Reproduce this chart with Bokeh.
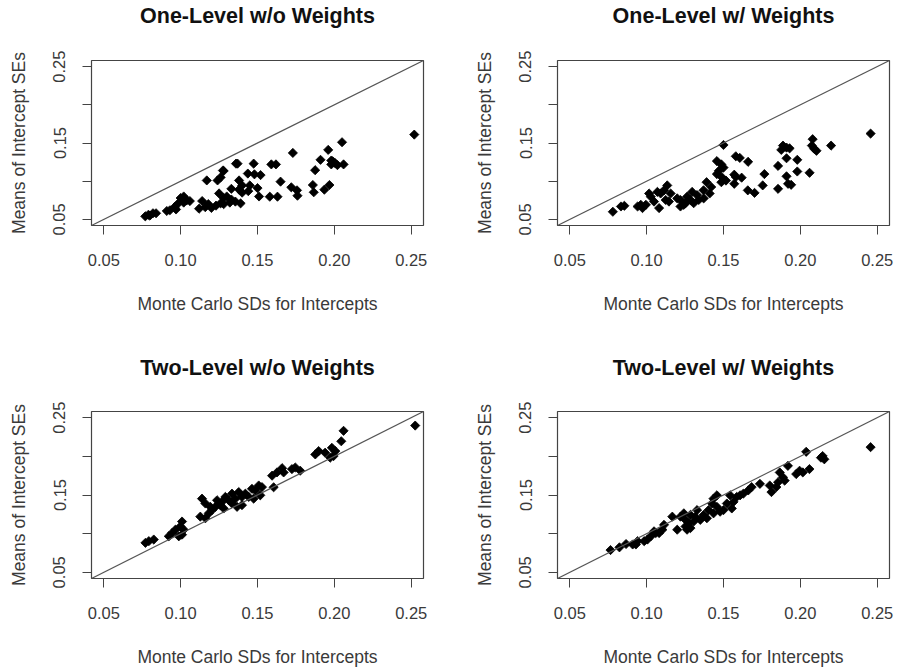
import math
from bokeh.plotting import figure
from bokeh.layouts import column, row
from bokeh.models import Range1d, FixedTicker, Slope, Title
from bokeh.embed import file_html
from bokeh.resources import INLINE

# ---------------- data ----------------
titles = ["One-Level w/o Weights", "One-Level w/ Weights",
          "Two-Level w/o Weights", "Two-Level w/ Weights"]
x_title = "Monte Carlo SDs for Intercepts"
y_title = "Means of Intercept SEs"
x_ticks = [0.05, 0.10, 0.15, 0.20, 0.25]
x_tick_labels = ["0.05", "0.10", "0.15", "0.20", "0.25"]
y_ticks = [0.05, 0.10, 0.15, 0.20, 0.25]
y_tick_labels = ["0.05", "", "0.15", "", "0.25"]

p1_x = [0.252, 0.205, 0.196, 0.191, 0.199, 0.202, 0.206, 0.198, 0.1875, 0.173,
        0.162, 0.159, 0.137, 0.1475, 0.128, 0.126, 0.117, 0.1275, 0.124,
        0.1437, 0.148, 0.152, 0.138, 0.140, 0.145, 0.165, 0.150, 0.151,
        0.158, 0.163, 0.172, 0.1757, 0.176, 0.186, 0.1866, 0.1935, 0.1968,
        0.198, 0.133, 0.138, 0.140, 0.144, 0.1356, 0.139, 0.125, 0.130,
        0.133, 0.128, 0.114, 0.118, 0.123, 0.128, 0.132, 0.120, 0.112,
        0.126, 0.116, 0.100, 0.102, 0.104, 0.098, 0.102, 0.106, 0.093,
        0.097, 0.096, 0.091, 0.077, 0.079, 0.082, 0.084, 0.080, 0.2005,
        0.136]
p1_y = [0.161, 0.151, 0.141, 0.128, 0.126, 0.121, 0.122, 0.122, 0.1144, 0.137,
        0.122, 0.122, 0.123, 0.123, 0.1135, 0.105, 0.101, 0.114, 0.101,
        0.110, 0.109, 0.108, 0.101, 0.0945, 0.0945, 0.0994, 0.091, 0.080,
        0.0797, 0.0797, 0.092, 0.088, 0.081, 0.095, 0.0855, 0.0889, 0.095,
        0.127, 0.090, 0.089, 0.085, 0.087, 0.0733, 0.071, 0.084, 0.080,
        0.076, 0.078, 0.074, 0.070, 0.068, 0.070, 0.072, 0.065, 0.064,
        0.071, 0.066, 0.078, 0.080, 0.075, 0.070, 0.072, 0.074, 0.062,
        0.063, 0.066, 0.061, 0.054, 0.056, 0.058, 0.058, 0.055, 0.1237,
        0.123]

p2_x = [0.2457, 0.208, 0.2075, 0.209, 0.2105, 0.220, 0.1887, 0.191, 0.193,
        0.1876, 0.191, 0.198, 0.1855, 0.198, 0.206, 0.191, 0.192, 0.194,
        0.1855, 0.1766, 0.1755, 0.166, 0.158, 0.1606, 0.1618, 0.1658, 0.1702,
        0.157, 0.158, 0.157, 0.150, 0.1457, 0.1486, 0.150, 0.147, 0.1457,
        0.149, 0.1486, 0.1516, 0.139, 0.142, 0.137, 0.141, 0.1263, 0.1285,
        0.1306, 0.1339, 0.1371, 0.1328, 0.1296, 0.1253, 0.122, 0.1199,
        0.1156, 0.1113, 0.1091, 0.107, 0.1124, 0.1145, 0.1048, 0.1081,
        0.1027, 0.1134, 0.1016, 0.0995, 0.0962, 0.0973, 0.0941, 0.0855,
        0.0833, 0.078, 0.122, 0.1242]
p2_y = [0.1623, 0.155, 0.1466, 0.1424, 0.1398, 0.1466, 0.1466, 0.144, 0.143,
        0.141, 0.130, 0.128, 0.120, 0.1127, 0.111, 0.1064, 0.0966, 0.0953,
        0.090, 0.1093, 0.0945, 0.1254, 0.1326, 0.1305, 0.1046, 0.088, 0.0847,
        0.1085, 0.1055, 0.0966, 0.1474, 0.1263, 0.122, 0.1178, 0.1136, 0.1093,
        0.1051, 0.0987, 0.1008, 0.0987, 0.0924, 0.0881, 0.0839, 0.0797, 0.0754,
        0.0712, 0.0754, 0.0775, 0.0818, 0.086, 0.0712, 0.0754, 0.0775,
        0.0839, 0.0881, 0.0839, 0.086, 0.0754, 0.0733, 0.0733, 0.0648,
        0.0797, 0.0945, 0.0839, 0.0691, 0.0691, 0.0648, 0.0669, 0.0678,
        0.0669, 0.060, 0.0669, 0.0691]

p3_x = [0.2526, 0.206, 0.2045, 0.1984, 0.2006, 0.1995, 0.1973, 0.194, 0.1898,
        0.1876, 0.1746, 0.1778, 0.1724, 0.166, 0.1627, 0.1595, 0.167, 0.1605,
        0.1508, 0.1529, 0.1486, 0.1518, 0.1475, 0.1443, 0.1464, 0.1421,
        0.1378, 0.1399, 0.1356, 0.1334, 0.1313, 0.1291, 0.1269, 0.1248,
        0.1226, 0.1204, 0.128, 0.1237, 0.1334, 0.1367, 0.1399, 0.1139,
        0.1161, 0.1128, 0.1161, 0.1183, 0.1193, 0.1258, 0.1009, 0.0998,
        0.102, 0.0966, 0.0944, 0.0923, 0.1009, 0.0988, 0.0793, 0.0825,
        0.0771]
p3_y = [0.2398, 0.233, 0.2195, 0.211, 0.2068, 0.2004, 0.1983, 0.2047, 0.2068,
        0.2025, 0.1856, 0.1814, 0.1835, 0.1847, 0.1792, 0.175, 0.1792, 0.160,
        0.1623, 0.1602, 0.1559, 0.1496, 0.1453, 0.1475, 0.158, 0.1517,
        0.1538, 0.1475, 0.1453, 0.1517, 0.1432, 0.1475, 0.1411, 0.139,
        0.1347, 0.1305, 0.1326, 0.1432, 0.139, 0.1347, 0.1369, 0.1453,
        0.139, 0.122, 0.1199, 0.1263, 0.1347, 0.1369, 0.1157, 0.1093,
        0.1051, 0.1051, 0.1008, 0.0966, 0.0987, 0.0966, 0.0903, 0.0924,
        0.0881]

p4_x = [0.2457, 0.2038, 0.2145, 0.2156, 0.2134, 0.1919, 0.2059, 0.2016, 0.1973,
        0.1995, 0.1866, 0.1887, 0.1855, 0.1898, 0.1844, 0.1812, 0.1801,
        0.1737, 0.1683, 0.1661, 0.1629, 0.1608, 0.1586, 0.1543, 0.1565,
        0.1522, 0.1554, 0.150, 0.1457, 0.1435, 0.1425, 0.1457, 0.1478,
        0.1435, 0.1403, 0.1371, 0.1392, 0.1349, 0.1317, 0.1328, 0.1285,
        0.1306, 0.1274, 0.1253, 0.1242, 0.122, 0.1167, 0.1253, 0.1263,
        0.1285, 0.1199, 0.1113, 0.1102, 0.1081, 0.1059, 0.1027, 0.1048,
        0.1005, 0.0984, 0.093, 0.0941, 0.0909, 0.0866, 0.0823, 0.0765]
p4_y = [0.2119, 0.2059, 0.2004, 0.1962, 0.1983, 0.1877, 0.1835, 0.1792, 0.1771,
        0.1814, 0.1792, 0.1729, 0.1665, 0.1686, 0.1602, 0.1538, 0.1623,
        0.1644, 0.1602, 0.1559, 0.1517, 0.1496, 0.1475, 0.1496, 0.1411,
        0.139, 0.1326, 0.1305, 0.1496, 0.1453, 0.139, 0.1347, 0.1284,
        0.1263, 0.1305, 0.1242, 0.1199, 0.1178, 0.122, 0.1305, 0.1242,
        0.1157, 0.1136, 0.1178, 0.1263, 0.122, 0.122, 0.1093, 0.1051,
        0.1072, 0.1051, 0.1114, 0.1051, 0.1008, 0.1008, 0.0966, 0.103,
        0.0924, 0.0903, 0.086, 0.0903, 0.086, 0.0866, 0.0823, 0.0788]

series = [(p1_x, p1_y), (p2_x, p2_y), (p3_x, p3_y), (p4_x, p4_y)]

FONT = "Liberation Sans"
GRAY = "#3a3a3a"
LO, HI = 0.042, 0.258
FRAME_W, FRAME_H = 332, 167


def make_panel(idx, w, h, bl, bt, gap):
    xs, ys = series[idx]
    br = w - bl - FRAME_W
    bb = h - bt - FRAME_H
    p = figure(width=w, height=h, output_backend="svg", toolbar_location=None,
               x_range=Range1d(LO, HI), y_range=Range1d(LO, HI),
               min_border_left=bl, min_border_right=br,
               min_border_top=bt, min_border_bottom=bb)
    p.grid.visible = False
    p.background_fill_color = "white"
    p.border_fill_color = "white"
    p.outline_line_color = "#444444"
    p.outline_line_width = 1.2

    # invisible spacer next to the frame, then the real title above it
    spacer = Title(text=" ", text_font_size="1px", standoff=gap,
                   text_color="white")
    main = Title(text=titles[idx], align="center", vertical_align="top",
                 standoff=6, text_font=FONT, text_font_size="21.5px",
                 text_font_style="bold", text_color="#111111")
    p.add_layout(spacer, "above")
    p.add_layout(main, "above")

    for ax, ticks, labels in ((p.xaxis[0], x_ticks, x_tick_labels),
                              (p.yaxis[0], y_ticks, y_tick_labels)):
        ax.ticker = FixedTicker(ticks=ticks)
        ax.major_label_overrides = {t: l for t, l in zip(ticks, labels)}
        ax.bounds = (0.05, 0.25)
        ax.axis_line_color = "#444444"
        ax.major_tick_line_color = "#444444"
        ax.major_tick_in = 0
        ax.major_tick_out = 9
        ax.minor_tick_line_color = None
        ax.major_label_text_font = FONT
        ax.major_label_text_font_size = "16.5px"
        ax.major_label_text_color = GRAY
        ax.axis_label_text_font = FONT
        ax.axis_label_text_font_size = "17.5px"
        ax.axis_label_text_font_style = "normal"
        ax.axis_label_text_color = GRAY
    p.xaxis.axis_label = x_title
    p.xaxis.major_label_standoff = 19
    p.xaxis.axis_label_standoff = 25
    p.yaxis.axis_label = y_title
    p.yaxis.major_label_orientation = "vertical"
    p.yaxis.major_label_standoff = 17
    p.yaxis.axis_label_standoff = 22

    p.add_layout(Slope(gradient=1, y_intercept=0, line_color="#555555",
                       line_width=1.2))
    p.scatter(xs, ys, marker="square", angle=math.pi / 4, size=6.5,
              fill_color="black", line_color="black", line_width=0.8)
    return p


p1 = make_panel(0, 450, 340, 91, 58, 25)
p2 = make_panel(1, 449, 340, 107, 58, 25)
p3 = make_panel(2, 450, 330, 91, 71, 24)
p4 = make_panel(3, 449, 330, 107, 71, 24)

layout = column(row(p1, p2, spacing=0), row(p3, p4, spacing=0), spacing=0)
open("out.html", "w").write(file_html(layout, INLINE))
